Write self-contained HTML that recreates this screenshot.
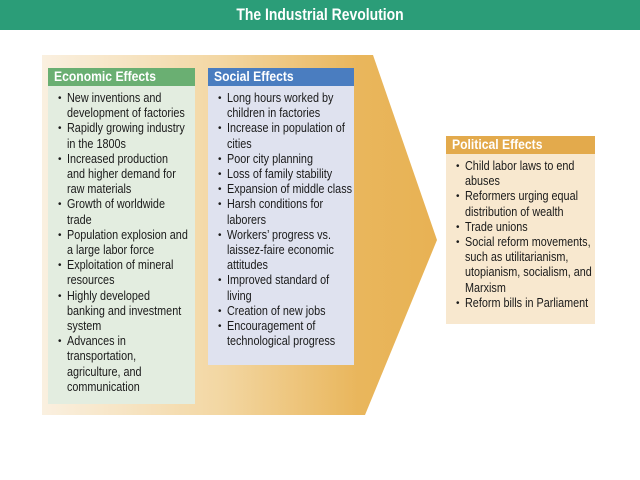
<!DOCTYPE html>
<html><head><style>
body{margin:0;width:640px;height:480px;background:#fff;position:relative;overflow:hidden;font-family:"Liberation Sans",sans-serif;}
.hdr{position:absolute;left:0;top:0;width:640px;height:30px;background:#2b9d78;color:#fff;font-weight:bold;font-size:17px;text-align:center;line-height:30px;}
.hdr span{display:inline-block;transform:scaleX(.82);}
.box{position:absolute;box-sizing:border-box;}
.box h3{margin:0;height:18px;line-height:18px;color:#fff;font-size:13.5px;font-weight:bold;padding-left:6px;white-space:nowrap;}
.box h3 span{display:inline-block;transform:scaleX(.9);transform-origin:left;}
.box ul{margin:0;padding:5px 0 0 12px;list-style:none;font-size:12.5px;line-height:15.2px;color:#1a1a1a;white-space:nowrap;}
.box li{position:relative;padding-left:7px;}
.box li span{display:inline-block;transform:scaleX(.865);transform-origin:left;}
.box li:before{content:"•";position:absolute;left:-2px;font-size:10px;}
</style></head><body>
<div class="hdr"><span>The Industrial Revolution</span></div>
<svg style="position:absolute;left:0;top:0" width="640" height="480">
<defs><linearGradient id="g" x1="42" x2="437" y1="0" y2="0" gradientUnits="userSpaceOnUse">
<stop offset="0" stop-color="#faf0e0"/><stop offset="0.45" stop-color="#f3d7a3"/><stop offset="0.8" stop-color="#e9b65c"/><stop offset="1" stop-color="#e8b254"/></linearGradient></defs>
<polygon points="42,55 373,55 437,240 365,415 42,415" fill="url(#g)"/>
</svg>
<div class="box" style="left:48px;top:68px;width:147px;height:336px;background:#e3ede0;">
<h3 style="background:#6aaf72"><span>Economic Effects</span></h3>
<ul><li><span>New inventions and<br>development of factories</span></li><li><span>Rapidly growing industry<br>in the 1800s</span></li><li><span>Increased production<br>and higher demand for<br>raw materials</span></li><li><span>Growth of worldwide<br>trade</span></li><li><span>Population explosion and<br>a large labor force</span></li><li><span>Exploitation of mineral<br>resources</span></li><li><span>Highly developed<br>banking and investment<br>system</span></li><li><span>Advances in<br>transportation,<br>agriculture, and<br>communication</span></li></ul>
</div>
<div class="box" style="left:208px;top:68px;width:146px;height:297px;background:#dfe2ef;">
<h3 style="background:#4a7dc0"><span>Social Effects</span></h3>
<ul><li><span>Long hours worked by<br>children in factories</span></li><li><span>Increase in population of<br>cities</span></li><li><span>Poor city planning</span></li><li><span>Loss of family stability</span></li><li><span>Expansion of middle class</span></li><li><span>Harsh conditions for<br>laborers</span></li><li><span>Workers’ progress vs.<br>laissez-faire economic<br>attitudes</span></li><li><span>Improved standard of<br>living</span></li><li><span>Creation of new jobs</span></li><li><span>Encouragement of<br>technological progress</span></li></ul>
</div>
<div class="box" style="left:446px;top:136px;width:149px;height:188px;background:#f8e8cf;">
<h3 style="background:#e3aa4c"><span>Political Effects</span></h3>
<ul><li><span>Child labor laws to end<br>abuses</span></li><li><span>Reformers urging equal<br>distribution of wealth</span></li><li><span>Trade unions</span></li><li><span>Social reform movements,<br>such as utilitarianism,<br>utopianism, socialism, and<br>Marxism</span></li><li><span>Reform bills in Parliament</span></li></ul>
</div>
</body></html>
